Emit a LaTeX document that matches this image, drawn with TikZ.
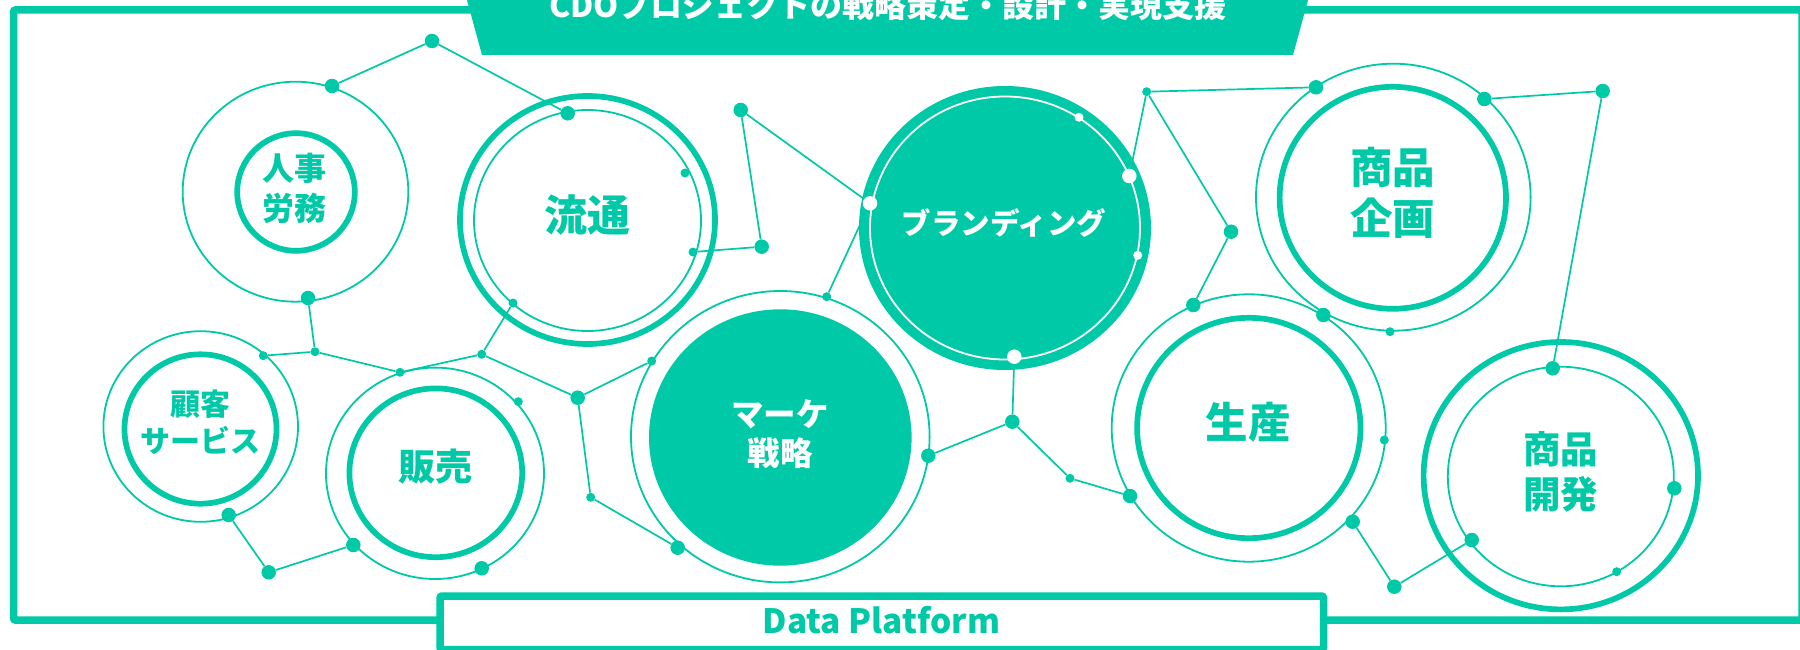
\documentclass[tikz,border=0pt]{standalone}
\usepackage{fontspec}
\newfontfamily\jp{Noto Sans CJK JP}
\definecolor{tl}{RGB}{0,201,167}
\begin{document}
\begin{tikzpicture}[x=1pt,y=-1pt,
  thinring/.style={draw=tl,line width=1.8pt},
  thickring/.style={draw=tl,line width=5.7pt},
  whitering/.style={draw=white,line width=1.8pt},
  link/.style={draw=tl,line width=1.7pt},
  bigdot/.style={circle,fill=tl,inner sep=0pt,minimum size=14.5pt},
  smalldot/.style={circle,fill=tl,inner sep=0pt,minimum size=9pt},
  bigwdot/.style={circle,fill=white,inner sep=0pt,minimum size=14.5pt},
  smallwdot/.style={circle,fill=white,inner sep=0pt,minimum size=9pt},
  lbl/.style={text=tl,align=center,inner sep=0pt},
  wlbl/.style={text=white,align=center,inner sep=0pt}]
\useasboundingbox (0,0) rectangle (1800,650);
% frame
\draw[tl,line width=7.5pt,rounded corners=2pt] (13.5,10) rectangle (1802,620);
% banner
\fill[tl] (465.6,-5) -- (482,55) -- (1293,55) -- (1309.4,-5) -- cycle;
\node[text=white,anchor=south,inner sep=0pt,font=\jp\bfseries\fontsize{32}{36}\selectfont] (title) at (888,21) {CDOプロジェクトの戦略策定・設計・実現支援};
% data platform box
\draw[tl,fill=white,line width=7.5pt,rounded corners=2pt] (440,596) rectangle (1323.5,649.5);
\node[text=tl,anchor=base,inner sep=0pt,font=\jp\bfseries\fontsize{33.5}{38}\selectfont] (dp) at (881.5,633.3) {Data Platform};

% rings
\draw[thinring] (295.5,191.7) ellipse [x radius=112.8pt, y radius=110pt];
\draw[thickring] (296,192) ellipse [x radius=58.8pt, y radius=58.8pt];
\draw[thickring] (587.5,220) ellipse [x radius=127.5pt, y radius=124pt];
\draw[thinring] (587.5,220.5) ellipse [x radius=113.5pt, y radius=110.5pt];
\draw[thinring] (200.7,426.5) ellipse [x radius=97.3pt, y radius=95.3pt];
\draw[thickring] (200.5,429) ellipse [x radius=76pt, y radius=74.7pt];
\draw[thinring] (435,473.3) ellipse [x radius=109pt, y radius=105.7pt];
\draw[thickring] (435.8,472.8) ellipse [x radius=86.4pt, y radius=84.4pt];
\draw[thinring] (780.3,436.7) ellipse [x radius=149.3pt, y radius=145.7pt];
\fill[tl] (780.3,437.5) ellipse [x radius=131.3pt, y radius=128.2pt];
\fill[tl] (1005,228) ellipse [x radius=146pt, y radius=142pt];
\draw[whitering] (1005,228) ellipse [x radius=135pt, y radius=131.5pt];
\draw[thinring] (1393.3,197.2) ellipse [x radius=137.3pt, y radius=133.5pt];
\draw[thickring] (1392.8,197.8) ellipse [x radius=113.2pt, y radius=111pt];
\draw[thinring] (1248.7,428) ellipse [x radius=137pt, y radius=133.7pt];
\draw[thickring] (1248.8,428) ellipse [x radius=111.7pt, y radius=110.2pt];
\draw[thickring] (1560.8,475.7) ellipse [x radius=137.2pt, y radius=133.7pt];
\draw[thinring] (1560.8,476.5) ellipse [x radius=113pt, y radius=109.8pt];

% labels
\node[lbl,font=\jp\bfseries\fontsize{32}{40}\selectfont] (jinji) at (294,188.5) {人事\\労務};
\node[lbl,font=\jp\bfseries\fontsize{43}{50}\selectfont] (ryutsu) at (587.5,215) {流通};
\node[lbl,font=\jp\bfseries\fontsize{30}{36.7}\selectfont] (kokyaku) at (200,422.5) {顧客\\サービス};
\node[lbl,font=\jp\bfseries\fontsize{37}{44}\selectfont] (hanbai) at (435,467) {販売};
\node[wlbl,font=\jp\bfseries\fontsize{32.5}{38.5}\selectfont] (marke) at (780,434) {マーケ\\戦略};
\node[wlbl,font=\jp\bfseries\fontsize{29.5}{34}\selectfont] (brand) at (1004,223) {ブランディング};
\node[lbl,font=\jp\bfseries\fontsize{42.5}{51}\selectfont] (kikaku) at (1392.5,192.5) {商品\\企画};
\node[lbl,font=\jp\bfseries\fontsize{42.5}{50}\selectfont] (seisan) at (1248.3,422) {生産};
\node[lbl,font=\jp\bfseries\fontsize{37.5}{45.7}\selectfont] (kaihatsu) at (1560.8,471.7) {商品\\開発};

% dots
\node[bigdot] (A) at (432,41) {};
\node[bigdot] (B) at (332,86) {};
\node[bigdot] (C) at (567.7,113.3) {};
\node[bigdot] (D) at (308,298) {};
\node[smalldot] (E) at (315,351.7) {};
\node[smalldot] (F) at (263.3,355.7) {};
\node[smalldot] (G) at (400,372.3) {};
\node[smalldot] (H) at (481.7,354.3) {};
\node[smalldot] (I) at (513,303) {};
\node[bigdot] (J) at (577.7,397.7) {};
\node[smalldot] (K) at (651.7,361) {};
\node[smalldot] (L) at (590.7,497.3) {};
\node[bigdot] (M) at (677.7,547.7) {};
\node[bigdot] (N) at (228.7,515) {};
\node[bigdot] (O) at (268.7,572.3) {};
\node[bigdot] (P) at (353.3,545) {};
\node[bigdot] (Q) at (481.7,568.3) {};
\node[smalldot] (R) at (518.3,401.7) {};
\node[smalldot] (S) at (685,173) {};
\node[smalldot] (T) at (693,252) {};
\node[bigdot] (U) at (761.7,246.7) {};
\node[bigdot] (V) at (740.7,110) {};
\node[bigwdot] (W) at (870,203.3) {};
\node[smalldot] (X) at (826.7,296.7) {};
\node[smallwdot] (Y) at (1079,117.3) {};
\node[bigwdot] (Z) at (1129.3,176) {};
\node[smalldot] (AA) at (1146.7,91.7) {};
\node[bigdot] (AB) at (1316,87.3) {};
\node[bigdot] (AC) at (1231,231.7) {};
\node[bigdot] (AD) at (1193.3,305) {};
\node[smallwdot] (AE) at (1137.7,255.3) {};
\node[bigwdot] (AF) at (1014.3,356.7) {};
\node[bigdot] (AG) at (1012.3,421.7) {};
\node[bigdot] (AH) at (928.3,455.7) {};
\node[smalldot] (AI) at (1070,478.3) {};
\node[bigdot] (AJ) at (1130,496) {};
\node[bigdot] (AK) at (1323.3,315) {};
\node[smalldot] (AL) at (1390,331.7) {};
\node[bigdot] (AM) at (1484.3,99) {};
\node[bigdot] (AN) at (1602.7,91) {};
\node[bigdot] (AO) at (1552.7,368.3) {};
\node[smalldot] (AP) at (1384.3,440) {};
\node[bigdot] (AQ) at (1352.7,521.7) {};
\node[bigdot] (AR) at (1394.3,586.7) {};
\node[bigdot] (AS) at (1471.7,540) {};
\node[bigdot] (AT) at (1674.3,488.3) {};
\node[smalldot] (AU) at (1616.7,571.7) {};

% links
\draw[link] (A) -- (B);
\draw[link] (A) -- (C);
\draw[link] (D) -- (E);
\draw[link] (E) -- (F);
\draw[link] (E) -- (G);
\draw[link] (G) -- (H);
\draw[link] (H) -- (I);
\draw[link] (H) -- (J);
\draw[link] (J) -- (K);
\draw[link] (J) -- (L);
\draw[link] (L) -- (M);
\draw[link] (N) -- (O);
\draw[link] (O) -- (P);
\draw[link] (T) -- (U);
\draw[link] (U) -- (V);
\draw[link] (V) -- (W);
\draw[link] (W) -- (X);
\draw[link] (Z) -- (AA);
\draw[link] (AA) -- (AB);
\draw[link] (AA) -- (AC);
\draw[link] (AC) -- (AD);
\draw[link] (AF) -- (AG);
\draw[link] (AG) -- (AH);
\draw[link] (AG) -- (AI);
\draw[link] (AI) -- (AJ);
\draw[link] (AM) -- (AN);
\draw[link] (AN) -- (AO);
\draw[link] (AQ) -- (AR);
\draw[link] (AR) -- (AS);
\end{tikzpicture}
\end{document}
